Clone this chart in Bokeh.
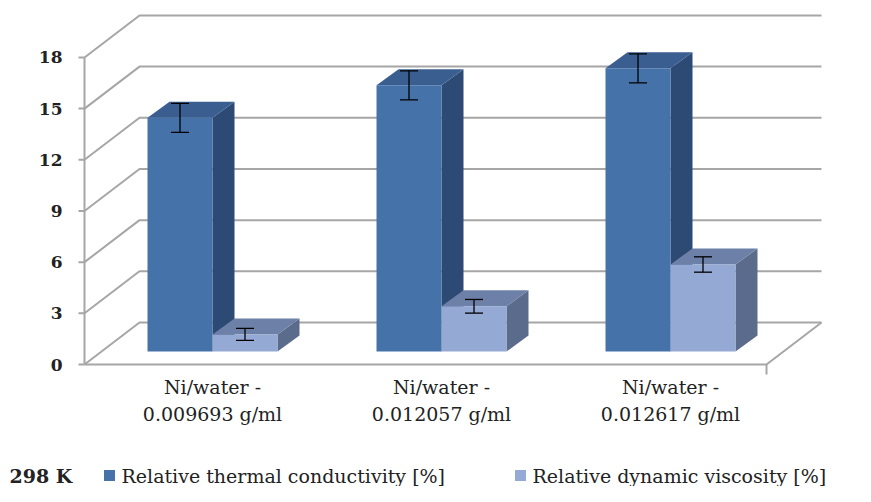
from bokeh.plotting import figure
from bokeh.models import Range1d
from bokeh.core.properties import value
from bokeh.embed import file_html
from bokeh.resources import INLINE

categories = [["Ni/water -", "0.009693 g/ml"], ["Ni/water -", "0.012057 g/ml"], ["Ni/water -", "0.012617 g/ml"]]
thermal = [13.7, 15.6, 16.6]
thermal_err = [0.85, 0.85, 0.85]
visc = [1.0, 2.65, 5.1]
visc_err = [0.35, 0.4, 0.45]
ticks = [0, 3, 6, 9, 12, 15, 18]
series_names = ["Relative thermal conductivity [%]", "Relative dynamic viscosity [%]"]
title = "298 K"

S = 17.06; Y0 = 362; FX0 = 85; FX1 = 767; DX = 55; DY = -42
BY = 349; W = 65; SDX = 22; SDY = -16; GX0 = 148; GSTEP = 229
FONT = value("DejaVu Serif")

p = figure(width=855, height=486, x_range=Range1d(1, 856), y_range=Range1d(484, -2),
           output_backend="svg", toolbar_location=None, min_border=0)
p.xaxis.visible = False; p.yaxis.visible = False
p.grid.visible = False; p.outline_line_color = None

GC = "#A6A6A6"
for t in ticks:
    y = Y0 - t * S
    p.line([FX0, FX0 + DX, FX1 + DX], [y, y + DY, y + DY], line_color=GC, line_width=2)
    p.line([FX0 - 6, FX0], [y, y], line_color=GC, line_width=2)
p.line([FX0, FX1, FX1 + DX], [Y0, Y0, Y0 + DY], line_color=GC, line_width=2)
p.line([FX1, FX1], [Y0, Y0 + 10], line_color=GC, line_width=2)
p.line([FX0, FX0], [Y0, Y0 - ticks[-1] * S], line_color=GC, line_width=2)
p.text([FX0 - 22] * len(ticks), [Y0 - t * S for t in ticks], text=[str(t) for t in ticks],
       text_align="right", text_baseline="middle", text_font=FONT, text_font_size="17px",
       text_font_style="bold", text_color="#222222")

def bar(x, v, front, top, side):
    yt = BY - v * S
    p.patch([x + W, x + W + SDX, x + W + SDX, x + W], [BY, BY + SDY, yt + SDY, yt], fill_color=side, line_color=None)
    p.patch([x, x + W, x + W + SDX, x + SDX], [yt, yt, yt + SDY, yt + SDY], fill_color=top, line_color=None)
    p.quad(left=x, right=x + W, top=yt, bottom=BY, fill_color=front, line_color=None)

def err(x, v, e):
    cx = x + W / 2
    y1 = BY - (v - e) * S; y2 = BY - (v + e) * S
    p.line([cx, cx], [y1, y2], line_color="black", line_width=1.3)
    p.line([cx - 9, cx + 9], [y1, y1], line_color="black", line_width=1.3)
    p.line([cx - 9, cx + 9], [y2, y2], line_color="black", line_width=1.3)

for i in range(len(categories)):
    x = GX0 + i * GSTEP
    bar(x, thermal[i], "#4672AA", "#3A5E90", "#2C4A73")
    bar(x + W, visc[i], "#94A9D3", "#6D80A7", "#5B6B8C")
    err(x, thermal[i], thermal_err[i])
    err(x + W, visc[i], visc_err[i])
    p.text([x + W], [384], text=[categories[i][0]], text_align="center", text_baseline="middle",
           text_font=FONT, text_font_size="19px", text_color="#222222")
    p.text([x + W], [411], text=[categories[i][1]], text_align="center", text_baseline="middle",
           text_font=FONT, text_font_size="19px", text_color="#222222")

p.text([10], [473], text=[title], text_baseline="middle", text_font=FONT, text_font_size="19px",
       text_font_style="bold", text_color="#222222")
p.rect([110, 521], [473, 473], width=11, height=11, fill_color=["#4672AA", "#94A9D3"], line_color=None)
p.text([122, 533], [473, 473], text=series_names, text_baseline="middle", text_font=FONT,
       text_font_size="19px", text_color="#222222")

open("out.html", "w").write(file_html(p, INLINE))
